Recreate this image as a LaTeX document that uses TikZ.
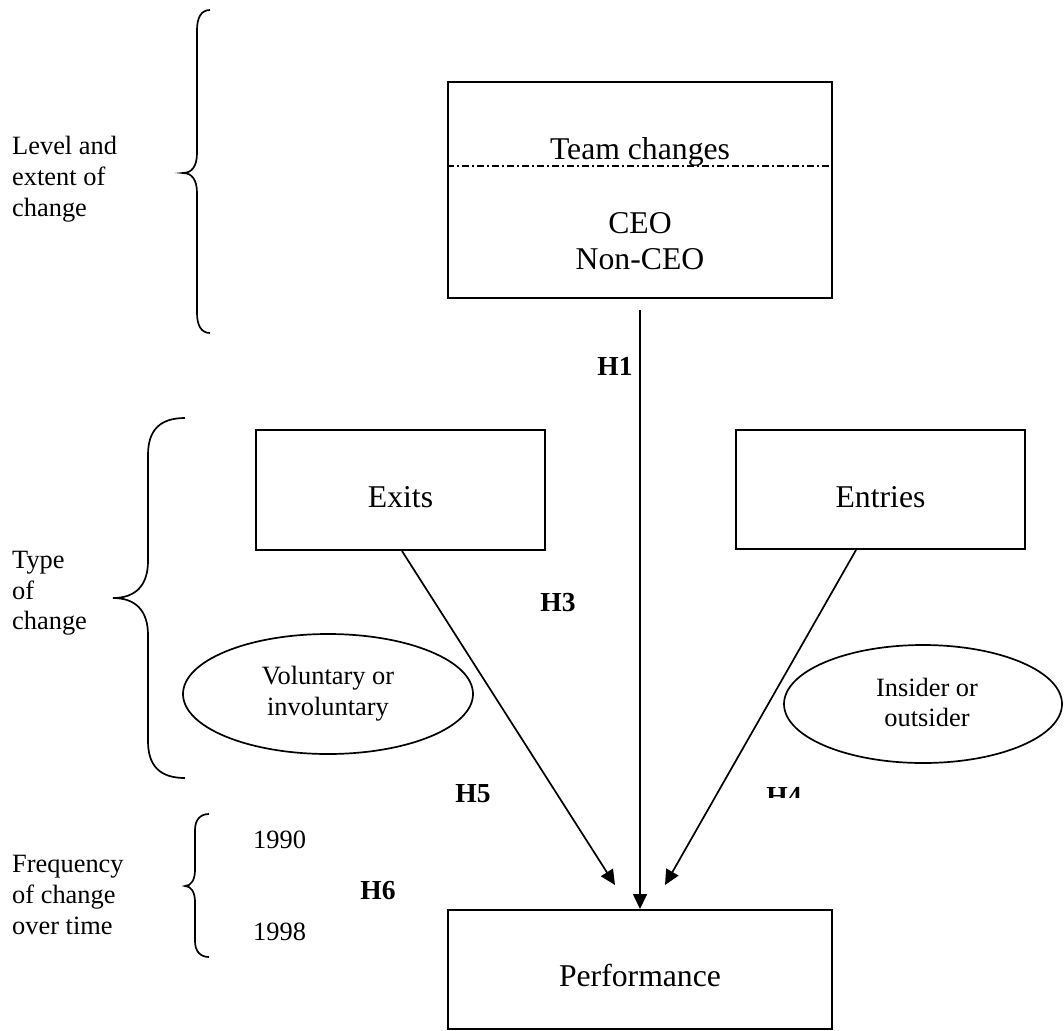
\documentclass[tikz,border=0pt]{standalone}
\usepackage{fontspec}
\setmainfont{Liberation Serif}
\usetikzlibrary{shapes.geometric,arrows.meta}
\tikzset{
  box/.style={draw,line width=2pt,rectangle,inner sep=0pt},
  oval/.style={draw,line width=1.7pt,ellipse,inner sep=0pt},
  boxtext/.style={inner sep=0pt,anchor=base,font=\fontsize{31.7}{36}\selectfont},
  smalltext/.style={inner sep=0pt,anchor=base west,font=\fontsize{26.4}{31}\selectfont},
  ovaltext/.style={inner sep=0pt,anchor=base,font=\fontsize{26.4}{31}\selectfont},
  hyp/.style={inner sep=0pt,anchor=base,font=\fontsize{27.5}{31}\selectfont\bfseries},
  conn/.style={line width=1.7pt,-{Triangle[length=15pt,width=14pt]}},
  bracestyle/.style={line width=1.7pt}
}
\begin{document}
\begin{tikzpicture}[x=1pt,y=-1pt]
\useasboundingbox (0,0) rectangle (1064,1030);

% boxes
\node[box,minimum width=384pt,minimum height=216pt] (team) at (640,190) {};
\draw[line width=1.7pt,dash pattern=on 7pt off 3pt on 2pt off 3pt] (team.west |- 0,166) coordinate (dl) -- (team.east |- 0,166) coordinate (dr);
\node[boxtext] (teamt) at (640,159) {Team changes};
\node[boxtext] (ceo) at (640,233) {CEO};
\node[boxtext] (nonceo) at (640,269) {Non-CEO};

\node[box,minimum width=289pt,minimum height=120pt] (exits) at (400.5,490) {};
\node[boxtext] (exitst) at (400.5,507) {Exits};

\node[box,minimum width=289pt,minimum height=119pt] (entries) at (880.5,489.5) {};
\node[boxtext] (entriest) at (880.5,507) {Entries};

\node[box,minimum width=384pt,minimum height=119pt] (perf) at (640,969.5) {};
\node[boxtext] (perft) at (640,986) {Performance};

% ellipses
\node[oval,minimum width=290pt,minimum height=120pt] (vol) at (328,694) {};
\node[ovaltext] (vol1) at (328,684) {Voluntary or};
\node[ovaltext] (vol2) at (328,715) {involuntary};

\node[oval,minimum width=278pt,minimum height=118pt] (ins) at (923,704) {};
\node[ovaltext] (ins1) at (927,696) {Insider or};
\node[ovaltext] (ins2) at (927,726) {outsider};

% connectors
\coordinate (tipL) at (615,885);
\coordinate (tipR) at (665,885);
\coordinate (topC) at (640,310);
\draw[conn] (topC) -- (perf.north);
\draw[conn] ([xshift=1.5pt]exits.south) -- (tipL);
\draw[conn] ([xshift=-24.5pt]entries.south) -- (tipR);

% hypothesis labels
\node[hyp] (h1) at (615,375) {H1};
\node[hyp] (h3) at (558,611) {H3};
\node[hyp] (h5) at (473,802) {H5};
\node[hyp] (h6) at (378,899) {H6};
\begin{scope}
\clip (740,770) rectangle (830,797);
\node[hyp] (h4) at (784,805.5) {H4};
\end{scope}

% braces
\draw[bracestyle] (210,10) .. controls (201,10) and (197,18) .. (197,30) -- (197,153)
  .. controls (197,166) and (192,173) .. (183,173)
  .. controls (192,173) and (197,180) .. (197,193) -- (197,313)
  .. controls (197,325) and (201,333) .. (210,333);
\draw[bracestyle] (185,418) .. controls (160,418) and (148,430) .. (148,455) -- (148,561)
  .. controls (148,586) and (135,598) .. (113,598)
  .. controls (135,598) and (148,610) .. (148,635) -- (148,741)
  .. controls (148,766) and (160,778) .. (185,778);
\draw[bracestyle] (209,814) .. controls (200,814) and (195,820) .. (195,830) -- (195,870)
  .. controls (195,880) and (191,886) .. (185,886)
  .. controls (191,886) and (195,892) .. (195,902) -- (195,941)
  .. controls (195,951) and (200,957) .. (209,957);

% left labels
\node[smalltext] (l1a) at (12,154) {Level and};
\node[smalltext] (l1b) at (12,185) {extent of};
\node[smalltext] (l1c) at (12,216) {change};
\node[smalltext] (l2a) at (12,568) {Type};
\node[smalltext] (l2b) at (12,599) {of};
\node[smalltext] (l2c) at (12,629) {change};
\node[smalltext] (l3a) at (12,872) {Frequency};
\node[smalltext] (l3b) at (12,903) {of change};
\node[smalltext] (l3c) at (12,934) {over time};
\node[smalltext] (y1) at (253,848) {1990};
\node[smalltext] (y2) at (253,940) {1998};
\end{tikzpicture}
\end{document}
